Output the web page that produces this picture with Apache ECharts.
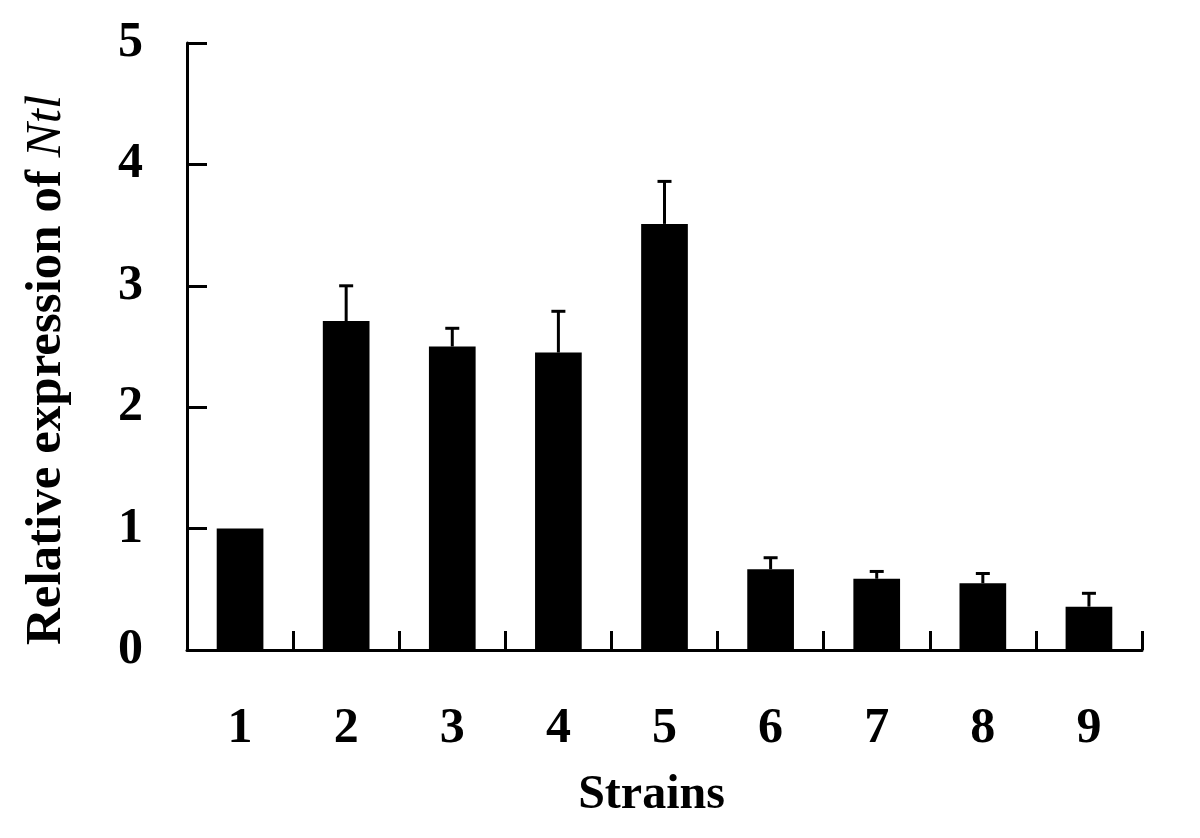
<!DOCTYPE html>
<html>
<head>
<meta charset="utf-8">
<script src="https://cdn.jsdelivr.net/npm/echarts@6/dist/echarts.min.js"></script>
<style>
  html, body { margin: 0; padding: 0; background: #fff; }
  #chart { width: 1200px; height: 838px; }
</style>
</head>
<body>
<div id="chart"></div>
<script>
const strains = ['1', '2', '3', '4', '5', '6', '7', '8', '9']
const expression = [1.0, 2.71, 2.5, 2.45, 3.51, 0.665, 0.587, 0.55, 0.357]
const errorUp = [0, 0.29, 0.15, 0.34, 0.35, 0.095, 0.06, 0.08, 0.11]

const font = '"Liberation Serif", "Times New Roman", serif'

const errorData = strains.map((s, i) => [i, expression[i], expression[i] + errorUp[i]])

function renderError(params, api) {
  if (api.value(2) <= api.value(1)) return null
  const base = api.coord([api.value(0), api.value(1)])
  const top = api.coord([api.value(0), api.value(2)])
  const capHalf = 7
  const style = { stroke: '#000', lineWidth: 3 }
  return {
    type: 'group',
    children: [
      { type: 'line', shape: { x1: base[0], y1: base[1], x2: top[0], y2: top[1] }, style },
      { type: 'line', shape: { x1: top[0] - capHalf, y1: top[1], x2: top[0] + capHalf, y2: top[1] }, style },
    ],
  }
}

const chart = echarts.init(document.getElementById('chart'))
chart.setOption({
  animation: false,
  grid: { left: 187, right: 58, top: 43, bottom: 188 },
  xAxis: {
    type: 'category',
    data: strains,
    name: 'Strains',
    nameLocation: 'middle',
    nameGap: 122,
    nameTextStyle: { fontFamily: font, fontWeight: 'bold', fontSize: 48, color: '#000', padding: [0, 26, 0, 0] },
    axisLine: { lineStyle: { color: '#000', width: 3 } },
    axisTick: { show: true, interval: 0, inside: true, length: 19, lineStyle: { color: '#000', width: 3 } },
    axisLabel: { margin: 54, fontFamily: font, fontWeight: 'bold', fontSize: 50, color: '#000' },
  },
  yAxis: {
    type: 'value',
    min: 0,
    max: 5,
    interval: 1,
    name: '{n|Relative expression of }{i|Ntl}',
    nameLocation: 'middle',
    nameGap: 115,
    nameRotate: 90,
    nameTextStyle: {
      padding: [0, 47, 0, 0],
      rich: {
        n: { fontFamily: font, fontWeight: 'bold', fontSize: 51, color: '#000' },
        i: { fontFamily: font, fontStyle: 'italic', fontSize: 51, color: '#000' },
      },
    },
    axisLine: { show: true, lineStyle: { color: '#000', width: 3 } },
    axisTick: { show: true, inside: true, length: 20, lineStyle: { color: '#000', width: 3 } },
    splitLine: { show: false },
    axisLabel: { margin: 44, fontFamily: font, fontWeight: 'bold', fontSize: 50, color: '#000' },
  },
  series: [
    {
      type: 'bar',
      data: expression,
      barWidth: '44%',
      itemStyle: { color: '#000' },
    },
    {
      type: 'custom',
      data: errorData,
      renderItem: renderError,
      encode: { x: 0, y: 2 },
      z: 3,
    },
  ],
})
</script>
</body>
</html>
